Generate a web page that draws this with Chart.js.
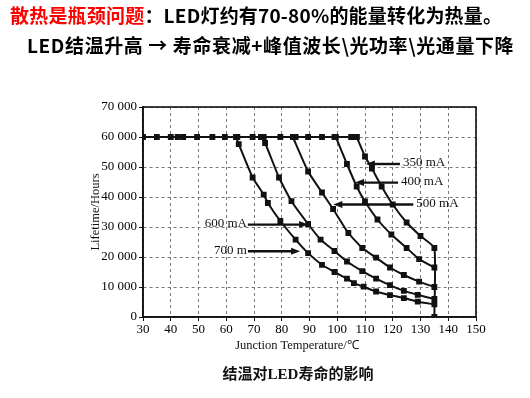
<!DOCTYPE html>
<html>
<head>
<meta charset="utf-8">
<script src="https://cdn.jsdelivr.net/npm/chart.js@4.4.0/dist/chart.umd.min.js"></script>
<style>
  html, body { margin: 0; padding: 0; background: #fff; }
  #wrap { position: relative; width: 530px; height: 398px; overflow: hidden; }
  #c { position: absolute; left: 0; top: 0; }
  .head { position: absolute; white-space: nowrap; font-family: "Noto Sans CJK SC", sans-serif; font-weight: 700; font-size: 19px; line-height: 19px; color: #000; }
  .red { color: #f00; }
  #xt { position: absolute; left: 197px; width: 200px; top: 338px; text-align: center; font-family: "Liberation Serif", serif; font-size: 12.5px; line-height: 15px; color: #111; }
  #cap { position: absolute; left: 0; width: 596px; top: 362px; text-align: center; font-family: "Liberation Serif", "Noto Sans CJK SC", serif; font-weight: 700; font-size: 15px; color: #111; }
</style>
</head>
<body>
<div id="wrap">
  <canvas id="c" width="530" height="398"></canvas>
  <div class="head" style="left:10px;top:5px;letter-spacing:0.2px;"><span class="red">散热是瓶颈问题</span>：LED灯约有70-80%的能量转化为热量。</div>
  <div class="head" style="left:27px;top:35px;letter-spacing:0.6px;">LED结温升高 → 寿命衰减+峰值波长\光功率\光通量下降</div>
  <div id="xt">Junction Temperature/℃</div>
  <div id="cap">结温对LED寿命的影响</div>
</div>
<script>
// plateau at 60 000 h shared by all currents
const plateauT = [30, 35, 40, 42.5, 44.5, 49.5, 55, 59.5, 64, 69.5, 73.5, 79.5, 85, 89.5, 94.5, 99, 105, 107];
const plateauLife = [60000, 60000, 60000, 60000, 60000, 60000, 60000, 60000, 60000, 60000, 60000, 60000, 60000, 60000, 60000, 60000, 60000, 60000];

const t350 = [107, 110, 112.5, 116, 120, 125, 130, 135, 135];
const life350 = [60000, 53500, 49500, 43500, 37500, 31500, 27000, 23000, 0];

const t400 = [99.5, 103.5, 107, 110, 114.5, 119.5, 125, 129.5, 135];
const life400 = [60000, 51000, 43500, 38500, 32500, 27500, 23000, 19300, 16500];

const t500 = [84, 89.5, 94.5, 98.5, 104, 109, 114, 119, 124, 129.5, 135];
const life500 = [60000, 48500, 41500, 36000, 28000, 23000, 19800, 16500, 14000, 11800, 10000];

const t600 = [72.5, 74, 79, 83.5, 89.5, 94, 99, 103.5, 109, 114, 119, 124, 129, 135];
const life600 = [60000, 58000, 46500, 38600, 31000, 25800, 22000, 18500, 15300, 12800, 10600, 8700, 7400, 6000];

const t700 = [63.5, 64.5, 69.5, 73.5, 75, 79.5, 85, 89.5, 94.5, 99, 103.5, 106, 109.5, 114, 119, 124, 129, 135];
const life700 = [60000, 57600, 46500, 40800, 38000, 32000, 25800, 21300, 17400, 15000, 12800, 11300, 10100, 8500, 7300, 6300, 5100, 4200];

const xTicks = [30, 40, 50, 60, 70, 80, 90, 100, 110, 120, 130, 140, 150];

// callouts: label, level (h), arrow tail and tip temperatures
const calloutText = ['350 mA', '400 mA', '500 mA', '600 mA', '700 m'];
const calloutLife = [51000, 44800, 37500, 30800, 21900];
const calloutTail = [122.6, 121.9, 127.4, 67.8, 67.8];
const calloutTip = [110.3, 106.4, 98.6, 89.5, 86.6];

const pts = (xs, ys) => xs.map((x, i) => ({ x: x, y: ys[i] }));

function series(label, xs, ys) {
  return {
    label: label,
    data: pts(xs, ys),
    borderColor: '#111',
    backgroundColor: '#111',
    borderWidth: 2,
    pointStyle: 'rect',
    pointRadius: 2.7,
    pointHoverRadius: 2.7,
    tension: 0.15
  };
}

const serif = '"Liberation Serif", "DejaVu Serif", serif';

const frameAndCallouts = {
  id: 'frameAndCallouts',
  afterDatasetsDraw(chart) {
    const ctx = chart.ctx;
    const a = chart.chartArea;
    const xs = chart.scales.x, ys = chart.scales.y;
    ctx.save();
    ctx.strokeStyle = '#111';
    ctx.lineWidth = 1.6;
    ctx.strokeRect(a.left, a.top, a.right - a.left, a.bottom - a.top);

    ctx.font = '13px ' + serif;
    ctx.fillStyle = '#111';
    ctx.textBaseline = 'middle';
    calloutText.forEach((txt, i) => {
      const y = ys.getPixelForValue(calloutLife[i]);
      const x0 = xs.getPixelForValue(calloutTail[i]);
      const x1 = xs.getPixelForValue(calloutTip[i]);
      const dir = x1 > x0 ? 1 : -1;
      ctx.lineWidth = 2.4;
      ctx.beginPath();
      ctx.moveTo(x0, y);
      ctx.lineTo(x1 - dir * 6, y);
      ctx.stroke();
      ctx.beginPath();
      ctx.moveTo(x1, y);
      ctx.lineTo(x1 - dir * 9, y - 3.5);
      ctx.lineTo(x1 - dir * 9, y + 3.5);
      ctx.closePath();
      ctx.fill();
      if (dir < 0) {
        ctx.textAlign = 'left';
        ctx.fillText(txt, x0 + 3, y - 1);
      } else {
        ctx.textAlign = 'right';
        ctx.fillText(txt, x0 - 1, y - 1);
      }
    });
    ctx.restore();
  }
};

new Chart(document.getElementById('c'), {
  type: 'line',
  data: {
    datasets: [
      series('plateau', plateauT, plateauLife),
      series('350 mA', t350, life350),
      series('400 mA', t400, life400),
      series('500 mA', t500, life500),
      series('600 mA', t600, life600),
      series('700 mA', t700, life700)
    ]
  },
  options: {
    responsive: false,
    animation: false,
    layout: { padding: { left: 88, right: 54, top: 107, bottom: 43 } },
    plugins: { legend: { display: false }, tooltip: { enabled: false } },
    scales: {
      x: {
        type: 'linear',
        min: 30,
        max: 150,
        afterBuildTicks: s => { s.ticks = xTicks.map(v => ({ value: v })); },
        afterFit: s => { s.height = 38; },
        ticks: { color: '#000', font: { family: serif, size: 13 }, padding: 1 },
        grid: { color: '#777', lineWidth: 1, tickColor: '#111', tickLength: 4, tickBorderDash: [] },
        border: { color: '#111', width: 1.6, dash: [3, 3] }
      },
      y: {
        min: 0,
        max: 70000,
        afterFit: s => { s.width = 55; },
        ticks: {
          stepSize: 10000,
          color: '#000',
          font: { family: serif, size: 13 },
          padding: 2,
          callback: v => v === 0 ? '0' : String(v / 1000) + ' 000'
        },
        grid: { color: '#777', lineWidth: 1, tickColor: '#111', tickLength: 4, tickBorderDash: [] },
        border: { color: '#111', width: 1.6, dash: [3, 3] },
        title: { display: true, text: 'Lifetime/Hours', color: '#111', font: { family: serif, size: 12.5 }, padding: 0 }
      }
    }
  },
  plugins: [frameAndCallouts]
});
</script>
</body>
</html>
